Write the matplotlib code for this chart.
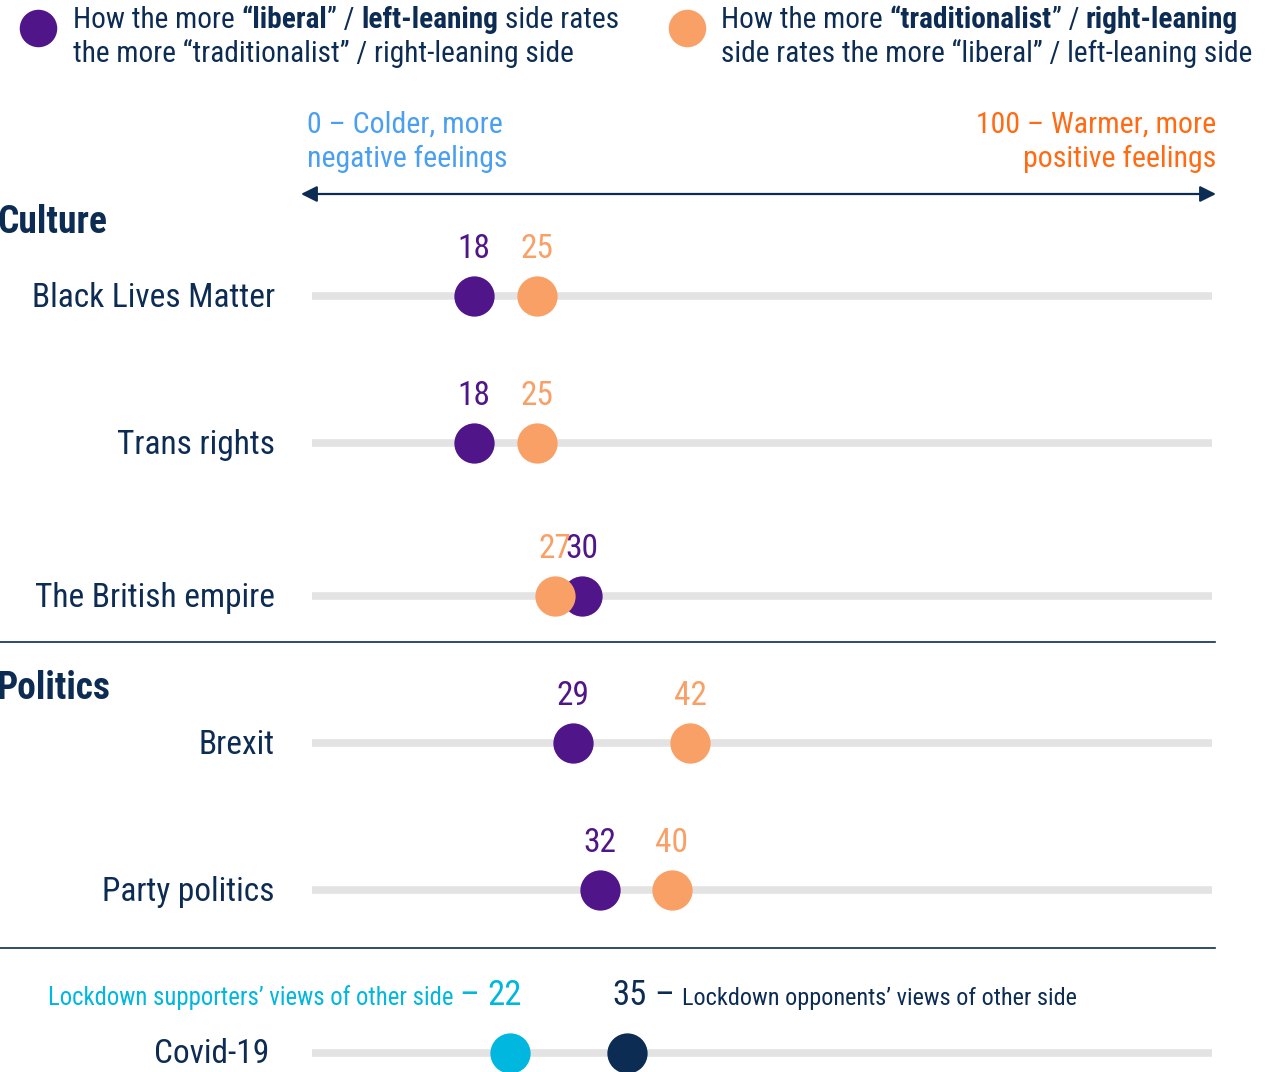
import matplotlib
matplotlib.use("Agg")
import matplotlib.pyplot as plt

# feeling-thermometer scores (0 = cold, 100 = warm)
topics = ["Black Lives Matter", "Trans rights", "The British empire", "Brexit", "Party politics"]
liberal_rating = [18, 18, 30, 29, 32]
traditional_rating = [25, 25, 27, 42, 40]
covid_topic = "Covid-19"
covid_supporters = 22
covid_opponents = 35

NAVY = "#0d2c54"
PURPLE = "#4f1589"
ORANGE = "#f9a066"
CYAN = "#00b7df"
BLUE_TXT = "#4a9ff0"
ORANGE_TXT = "#ff6a13"
TRACK = "#e3e3e3"
FONT = ["Roboto Condensed", "Liberation Sans Narrow", "Roboto", "DejaVu Sans"]

W, H = 1281, 1072
fig = plt.figure(figsize=(W / 100, H / 100), dpi=100)
fig.patch.set_facecolor("white")

# overlay in pixel units for text and rules
bg = fig.add_axes([0, 0, 1, 1])
bg.set_xlim(0, W)
bg.set_ylim(H, 0)
bg.axis("off")

# the 0-100 scale
ax = fig.add_axes([312 / W, 0, 900 / W, 1])
ax.set_xlim(0, 100)
ax.set_ylim(H, 0)
ax.axis("off")

renderer = fig.canvas.get_renderer()


def width_of(s, size, weight="normal"):
    t = bg.text(0, 0, s, fontsize=size, fontweight=weight, family=FONT)
    w = t.get_window_extent(renderer).width
    t.remove()
    return w


def rich(x, y, parts, ha="left"):
    """Draw a line made of (text, weight, color, size) pieces."""
    widths = []
    for s, weight, color, size in parts:
        lead = len(s) - len(s.lstrip(" "))
        trail = len(s) - len(s.rstrip(" "))
        sp = width_of("x x", size, weight) - width_of("xx", size, weight)
        widths.append((width_of(s.strip(" "), size, weight), lead * sp, trail * sp))
    total = sum(a + b + c for a, b, c in widths)
    if ha == "right":
        x -= total
    for (s, weight, color, size), (w, lead, trail) in zip(parts, widths):
        x += lead
        bg.text(x, y, s.strip(" "), fontsize=size, fontweight=weight, color=color,
                family=FONT, va="baseline", ha="left")
        x += w + trail


# legend
bg.plot(38, 28, "o", ms=27, color=PURPLE, mew=0)
bg.plot(687, 28, "o", ms=27, color=ORANGE, mew=0)
LS = 21.2
rich(73, 28, [("How the more ", "normal", NAVY, LS), ("“liberal", "bold", NAVY, LS),
              ("” / ", "normal", NAVY, LS), ("left-leaning", "bold", NAVY, LS),
              (" side rates", "normal", NAVY, LS)])
rich(73, 62, [("the more “traditionalist” / right-leaning side", "normal", NAVY, LS)])
rich(721, 28, [("How the more ", "normal", NAVY, LS), ("“traditionalist", "bold", NAVY, LS),
               ("” / ", "normal", NAVY, LS), ("right-leaning", "bold", NAVY, LS)])
rich(721, 62, [("side rates the more “liberal” / left-leaning side", "normal", NAVY, LS)])

# scale ends
ES = 21.5
bg.text(307, 133, "0 – Colder, more", fontsize=ES, color=BLUE_TXT, family=FONT, va="baseline")
bg.text(307, 167, "negative feelings", fontsize=ES, color=BLUE_TXT, family=FONT, va="baseline")
bg.text(1216, 133, "100 – Warmer, more", fontsize=ES, color=ORANGE_TXT, family=FONT,
        va="baseline", ha="right")
bg.text(1216, 167, "positive feelings", fontsize=ES, color=ORANGE_TXT, family=FONT,
        va="baseline", ha="right")
bg.annotate("", xy=(301, 194), xytext=(1216, 194),
            arrowprops=dict(arrowstyle="<|-|>", color=NAVY, lw=1.6,
                            mutation_scale=24, shrinkA=0, shrinkB=0))

# section headers and rules
bg.text(-3, 233, "Culture", fontsize=27, fontweight="bold", color=NAVY, family=FONT, va="baseline")
bg.text(-3, 699, "Politics", fontsize=27, fontweight="bold", color=NAVY, family=FONT, va="baseline")
bg.plot([0, 1215], [642, 642], color=NAVY, lw=1.2)
bg.plot([0, 1215], [948, 948], color=NAVY, lw=1.2)

row_y = [296, 443, 596, 743, 890]
for name, lib, trad, y in zip(topics, liberal_rating, traditional_rating, row_y):
    ax.plot([-0.2, 100.3], [y, y], color=TRACK, lw=5.5, solid_capstyle="butt", zorder=1)
    ax.plot(lib, y, "o", ms=29, color=PURPLE, mew=0, zorder=2)
    ax.plot(trad, y, "o", ms=29, color=ORANGE, mew=0, zorder=3)
    ax.text(lib, y - 38, str(lib), ha="center", va="baseline", fontsize=24,
            color=PURPLE, family=FONT, zorder=4)
    ax.text(trad, y - 38, str(trad), ha="center", va="baseline", fontsize=24,
            color=ORANGE, family=FONT, zorder=4)
    bg.text(275, y + 11, name, ha="right", va="baseline", fontsize=24, color=NAVY, family=FONT)

# covid row
cy = 1053
ax.plot([-0.2, 100.3], [cy, cy], color=TRACK, lw=5.5, solid_capstyle="butt", zorder=1)
ax.plot(covid_supporters, cy, "o", ms=29, color=CYAN, mew=0, zorder=2)
ax.plot(covid_opponents, cy, "o", ms=29, color=NAVY, mew=0, zorder=3)
bg.text(269, cy + 10, covid_topic, ha="right", va="baseline", fontsize=24, color=NAVY, family=FONT)

x_sup = ax.transData.transform((covid_supporters, 0))[0]
x_opp = ax.transData.transform((covid_opponents, 0))[0]
rich(x_sup + 12, 1005, [("Lockdown supporters’ views of other side ", "normal", CYAN, 17.8),
                        ("– ", "normal", CYAN, 25), (str(covid_supporters), "normal", CYAN, 25)],
     ha="right")
rich(x_opp - 15, 1005, [(str(covid_opponents), "normal", NAVY, 25), (" – ", "normal", NAVY, 25),
                        ("Lockdown opponents’ views of other side", "normal", NAVY, 17.5)])

fig.savefig("out.png", dpi=100, facecolor="white")
